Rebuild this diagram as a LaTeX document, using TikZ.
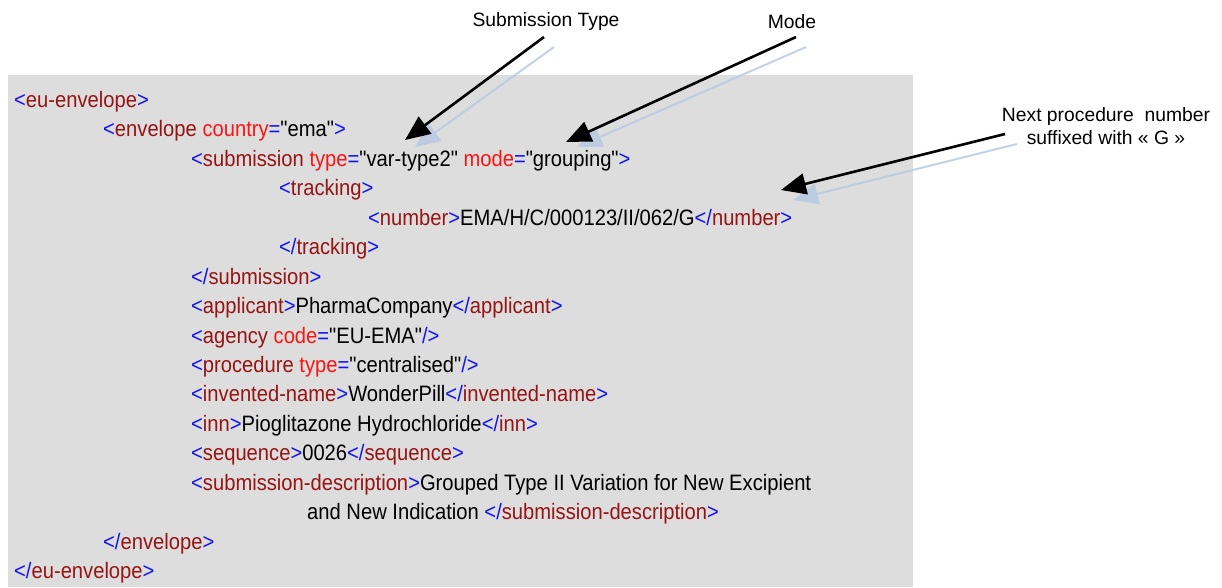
\documentclass[tikz,border=0pt]{standalone}
\usepackage{fontspec}
\setmainfont{Liberation Sans}
\newfontfamily\codefont[FakeStretch=0.905]{Liberation Sans}
\usetikzlibrary{arrows.meta}
\definecolor{xblue}{RGB}{20,20,240}
\definecolor{xel}{RGB}{150,20,20}
\definecolor{xat}{RGB}{250,20,20}
\definecolor{boxgray}{RGB}{221,221,221}
\definecolor{shadowblue}{RGB}{185,202,226}
\newcommand\Lt{\textcolor{xblue}{<}}
\newcommand\Lc{\textcolor{xblue}{</}}
\newcommand\Gt{\textcolor{xblue}{>}}
\newcommand\Sc{\textcolor{xblue}{/>}}
\newcommand\El[1]{\textcolor{xel}{#1}}
\newcommand\At[1]{\textcolor{xat}{#1}}
\newcommand\Eq{\textcolor{xblue}{=}}
\tikzset{
  code/.style={anchor=base west,inner sep=0pt,font=\codefont\fontsize{22.3}{26}\selectfont},
  lab/.style={align=center,inner sep=0pt,font=\fontsize{19.3}{23.5}\selectfont},
  callout/.style={line width=2.6pt,-{Triangle[length=25pt,width=21pt]}},
  callshadow/.style={line width=2pt,draw=shadowblue,opacity=0.85,-{Triangle[length=25pt,width=21pt,fill=shadowblue]}},
}
\begin{document}
\begin{tikzpicture}[x=1pt,y=-1pt]
\useasboundingbox (0,0) rectangle (1222,587);
\fill[boxgray] (8,75) rectangle (913,587);
% code lines
\def\bs{107.5}\def\ls{29.44}
\node[code] (l1)  at (14,{\bs+0*\ls})  {\Lt\El{eu-envelope}\Gt};
\node[code] (l2)  at (103,{\bs+1*\ls}) {\Lt\El{envelope} \At{country}\Eq"ema"\Gt};
\node[code] (l3)  at (191,{\bs+2*\ls}) {\Lt\El{submission} \At{type}\Eq"var-type2" \At{mode}\Eq"grouping"\Gt};
\node[code] (l4)  at (279,{\bs+3*\ls}) {\Lt\El{tracking}\Gt};
\node[code] (l5)  at (368,{\bs+4*\ls}) {\Lt\El{number}\Gt EMA/H/C/000123/II/062/G\Lc\El{number}\Gt};
\node[code] (l6)  at (279,{\bs+5*\ls}) {\Lc\El{tracking}\Gt};
\node[code] (l7)  at (191,{\bs+6*\ls}) {\Lc\El{submission}\Gt};
\node[code] (l8)  at (191,{\bs+7*\ls}) {\Lt\El{applicant}\Gt PharmaCompany\Lc\El{applicant}\Gt};
\node[code] (l9)  at (191,{\bs+8*\ls}) {\Lt\El{agency} \At{code}\Eq"EU-EMA"\Sc};
\node[code] (l10) at (191,{\bs+9*\ls}) {\Lt\El{procedure} \At{type}\Eq"centralised"\Sc};
\node[code] (l11) at (191,{\bs+10*\ls}) {\Lt\El{invented-name}\Gt WonderPill\Lc\El{invented-name}\Gt};
\node[code] (l12) at (191,{\bs+11*\ls}) {\Lt\El{inn}\Gt Pioglitazone Hydrochloride\Lc\El{inn}\Gt};
\node[code] (l13) at (191,{\bs+12*\ls}) {\Lt\El{sequence}\Gt 0026\Lc\El{sequence}\Gt};
\node[code] (l14) at (191,{\bs+13*\ls}) {\Lt\El{submission-description}\Gt Grouped Type II Variation for New Excipient};
\node[code] (l15) at (307,{\bs+14*\ls}) {and New Indication \Lc\El{submission-description}\Gt};
\node[code] (l16) at (103,{\bs+15*\ls}) {\Lc\El{envelope}\Gt};
\node[code] (l17) at (14,{\bs+16*\ls})  {\Lc\El{eu-envelope}\Gt};
% labels
\node[lab] (labtype) at (546,22) {Submission Type};
\node[lab] (labmode) at (792,22) {Mode};
\node[lab] (labnext) at (1106,126) {Next procedure\ \ number\\suffixed with « G »};
% arrow ends
\coordinate (ts) at (544,37);  \coordinate (tt) at (405,140);
\coordinate (tss) at (554,47); \coordinate (tst) at (415,147);
\coordinate (ms) at (796,37);  \coordinate (mt) at (566,142);
\coordinate (mss) at (806,47); \coordinate (mst) at (577,147);
\coordinate (ns) at (1005,134); \coordinate (nt) at (781,190);
\coordinate (nss) at (1017,144); \coordinate (nst) at (793,200);
\draw[callshadow] (tss) -- (tst);
\draw[callshadow] (mss) -- (mst);
\draw[callshadow] (nss) -- (nst);
\draw[callout] (ts) -- (tt);
\draw[callout] (ms) -- (mt);
\draw[callout] (ns) -- (nt);
\end{tikzpicture}
\end{document}
